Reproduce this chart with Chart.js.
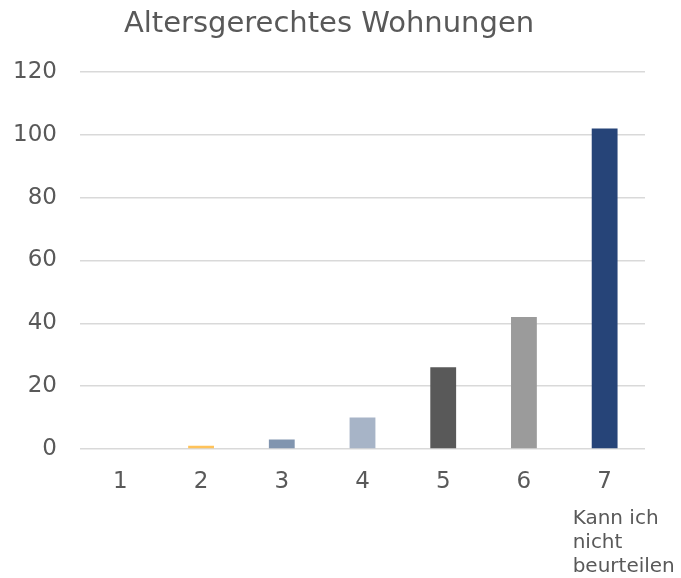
<!DOCTYPE html>
<html>
<head>
<meta charset="utf-8">
<script src="https://cdn.jsdelivr.net/npm/chart.js@4/dist/chart.umd.min.js"></script>
<style>
  html, body { margin: 0; padding: 0; background: #fff; }
  #wrap { width: 681px; height: 578px; }
</style>
</head>
<body>
<div id="wrap"><canvas id="wohnChart" width="681" height="578"></canvas></div>
<script>
// chart data
const categories = ['1', '2', '3', '4', '5', '6', '7'];
const counts = [0, 1, 3, 10, 26, 42, 102];
const barColors = ['#4472C4', '#FFC35A', '#8195AF', '#A7B4C7', '#595959', '#9B9B9B', '#264478'];
const yTicks = [0, 20, 40, 60, 80, 100, 120];
// extra note under the last category
const noteIndex = 6;
const noteLines = ['Kann ich', 'nicht', 'beurteilen'];

const textColor = '#595959';
const fontFamily = '"DejaVu Sans", sans-serif';

// draws the small note below the 7 label
const notePlugin = {
    id: 'categoryNote',
    afterDraw(chart) {
        const x = chart.scales.x;
        const ctx = chart.ctx;
        const cx = x.getPixelForValue(noteIndex);
        ctx.save();
        ctx.font = '20px ' + fontFamily;
        ctx.fillStyle = textColor;
        ctx.textAlign = 'left';
        ctx.textBaseline = 'middle';
        noteLines.forEach((line, i) => {
            ctx.fillText(line, cx - 32, x.bottom + 23 + i * 24);
        });
        ctx.restore();
    }
};

const ctx = document.getElementById('wohnChart').getContext('2d');
new Chart(ctx, {
    type: 'bar',
    data: {
        labels: categories,
        datasets: [{
            data: counts,
            backgroundColor: barColors,
            borderWidth: 0,
            barPercentage: 0.32,
            categoryPercentage: 1.0
        }]
    },
    options: {
        responsive: false,
        animation: false,
        layout: { padding: { left: 13, right: 36, top: 7, bottom: 82 } },
        plugins: {
            legend: { display: false },
            tooltip: { enabled: false },
            title: {
                display: true,
                text: 'Altersgerechtes Wohnungen',
                color: textColor,
                font: { family: fontFamily, size: 29, weight: 'normal' },
                padding: { top: 0, bottom: 30 }
            }
        },
        scales: {
            x: {
                grid: { display: false, drawTicks: false },
                border: { display: false },
                ticks: {
                    color: textColor,
                    font: { family: fontFamily, size: 23 },
                    padding: 19,
                    maxRotation: 0
                },
                afterFit(axis) { axis.height = 47; }
            },
            y: {
                min: 0,
                max: 120,
                afterBuildTicks(axis) {
                    axis.ticks = yTicks.map(v => ({ value: v }));
                },
                grid: {
                    color: '#D9D9D9',
                    lineWidth: 1.5,
                    drawTicks: false
                },
                border: { display: false },
                ticks: {
                    color: textColor,
                    font: { family: fontFamily, size: 23 },
                    padding: 23
                },
                afterFit(axis) { axis.width = 67; }
            }
        }
    },
    plugins: [notePlugin]
});
</script>
</body>
</html>
